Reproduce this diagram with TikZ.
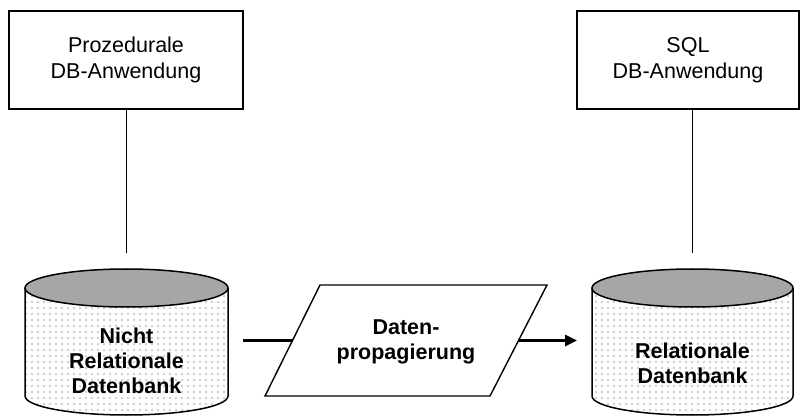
\documentclass[tikz,border=0pt]{standalone}
\usepackage{fontspec}
\setmainfont{Liberation Sans}
\usetikzlibrary{arrows.meta,patterns}
\pgfdeclarepatternformonly{mydots}{\pgfqpoint{-1pt}{-1pt}}{\pgfqpoint{5pt}{5pt}}{\pgfqpoint{6pt}{6pt}}{%
  \pgfpathcircle{\pgfqpoint{2pt}{2pt}}{1.1pt}\pgfusepath{fill}}
\definecolor{endgray}{HTML}{A6A6A6}
\tikzset{
  appbox/.style={draw, line width=1.4pt, minimum width=#1, minimum height=98pt, align=center,
    font=\fontsize{21.5}{26.5}\selectfont, inner sep=0pt},
  body/.style={fill=white, line width=1.4pt},
  bodypat/.style={pattern=mydots, pattern color=black!25},
  endcap/.style={fill=endgray, draw, line width=1.5pt},
  cyltext/.style={align=center, font=\bfseries\fontsize{21.5}{25}\selectfont},
  thin line/.style={line width=1.4pt},
  flow/.style={line width=2.8pt},
  flowarrow/.style={line width=2.8pt, -{Triangle[length=12pt,width=11pt]}},
}
\begin{document}
\begin{tikzpicture}[x=1pt,y=1pt]
\useasboundingbox (0,0) rectangle (801,418);
% top boxes
\node[appbox=234pt] (lbox) at (126,358) {Prozedurale\\DB-Anwendung};
\node[appbox=222pt] (rbox) at (688,358) {SQL\\DB-Anwendung};
% left cylinder
\fill[body] (25,130) -- (25,22) arc (180:360:101.5 and 19) -- (228,130) -- cycle;
\fill[bodypat] (25,130) -- (25,22) arc (180:360:101.5 and 19) -- (228,130) -- cycle;
\draw[line width=1.5pt] (25,130) -- (25,22) arc (180:360:101.5 and 19) -- (228,130);
\draw[endcap] (126.5,130) ellipse (101.5 and 19);
% right cylinder
\fill[body] (592,130) -- (592,22) arc (180:360:100.5 and 19) -- (793,130) -- cycle;
\fill[bodypat] (592,130) -- (592,22) arc (180:360:100.5 and 19) -- (793,130) -- cycle;
\draw[line width=1.5pt] (592,130) -- (592,22) arc (180:360:100.5 and 19) -- (793,130);
\draw[endcap] (692.5,130) ellipse (100.5 and 19);
% cylinder labels
\node[cyltext] (lcyl) at (126.5,57) {Nicht\\Relationale\\Datenbank};
\node[cyltext] (rcyl) at (692.5,55) {Relationale\\Datenbank};
% parallelogram
\coordinate (pbl) at (265,22);
\coordinate (pbr) at (490,22);
\coordinate (ptr) at (547,133);
\coordinate (ptl) at (320,133);
\draw[line width=1.4pt, line join=miter] (pbl) -- (pbr) -- (ptr) -- (ptl) -- cycle;
\node[cyltext] (para) at (406,76) {Daten-\\propagierung};
% connectors
\coordinate (lcylout) at (243,77.5);
\coordinate (pleft) at (292.5,77.5);
\coordinate (pright) at (518.5,77.5);
\coordinate (rcylin) at (577,77.5);
\coordinate (ltop) at (126.5,165);
\coordinate (rtop) at (692.5,165);
\draw[thin line] (lbox.south -| ltop) -- (ltop);
\draw[thin line] (rbox.south -| rtop) -- (rtop);
\draw[flow] (lcylout) -- (pleft);
\draw[flowarrow] (pright) -- (rcylin);
\end{tikzpicture}
\end{document}
